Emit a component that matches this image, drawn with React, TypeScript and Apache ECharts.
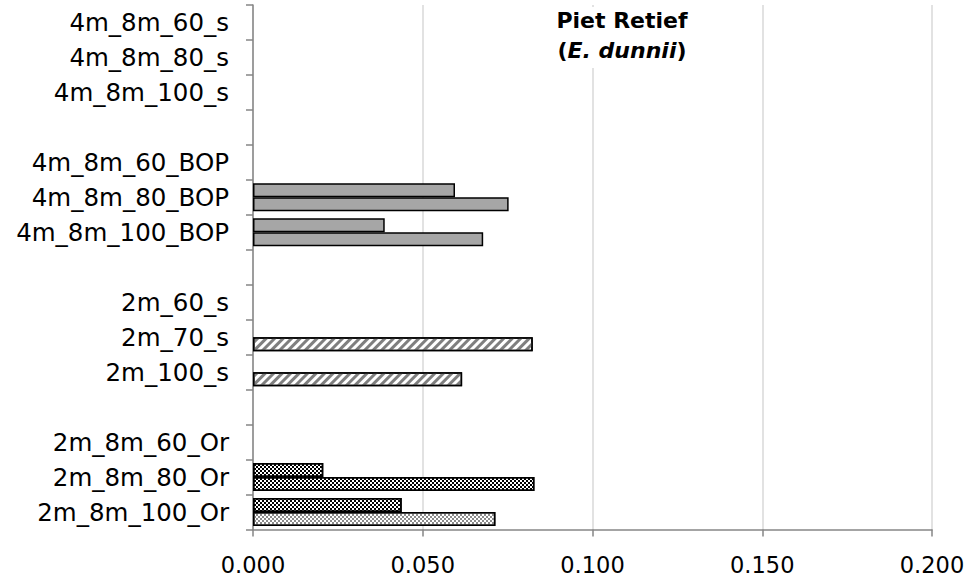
import React, { useEffect, useRef } from 'react';
import * as echarts from 'echarts';

// Categories listed top to bottom (blank strings are the gaps between groups)
const categories: string[] = [
  '4m_8m_60_s', '4m_8m_80_s', '4m_8m_100_s', ' ',
  '4m_8m_60_BOP', '4m_8m_80_BOP', '4m_8m_100_BOP', '  ',
  '2m_60_s', '2m_70_s', '2m_100_s', '   ',
  '2m_8m_60_Or', '2m_8m_80_Or', '2m_8m_100_Or',
];

// Upper bar of each category
const seriesA: (number | null)[] = [
  null, null, null, null,
  null, 0.0595, 0.0388, null,
  null, null, null, null,
  null, 0.0207, 0.0438,
];

// Lower bar of each category
const seriesB: (number | null)[] = [
  null, null, null, null,
  null, 0.0753, 0.0678, null,
  null, 0.0824, 0.0616, null,
  null, 0.0829, 0.0714,
];

const xMin = 0;
const xMax = 0.2;
const xStep = 0.05;

const titleLine1 = 'Piet Retief';
const titleSpecies = 'E. dunnii';

const FONT = 'DejaVu Sans';

const border = { borderColor: '#000000', borderWidth: 1.5 };

const solidGrey = { color: '#a6a6a6', ...border };
const stripe = {
  color: '#ffffff',
  ...border,
  decal: {
    symbol: 'rect',
    symbolSize: 1,
    dashArrayX: [1, 0],
    dashArrayY: [2.5, 2.5],
    rotation: -Math.PI / 4,
    color: '#7f7f7f',
  },
};
const checker = (c: string) => ({
  color: '#ffffff',
  ...border,
  decal: {
    symbol: 'rect',
    symbolSize: 1,
    dashArrayX: [[2, 2], [0, 2, 2, 0]],
    dashArrayY: [2, 0],
    rotation: 0,
    color: c,
  },
});

function styleFor(cat: string, seriesIdx: number) {
  if (cat.endsWith('_BOP')) return solidGrey;
  if (cat.endsWith('_s')) return stripe;
  if (cat === '2m_8m_100_Or' && seriesIdx === 1) return checker('#8c8c8c');
  return checker('#000000');
}

function toData(values: (number | null)[], seriesIdx: number) {
  return values.map((v, i) =>
    v == null ? null : { value: v, itemStyle: styleFor(categories[i], seriesIdx) }
  );
}

export default function App() {
  const ref = useRef<HTMLDivElement>(null);
  useEffect(() => {
    if (!ref.current) return;
    const chart = echarts.init(ref.current, undefined, { renderer: 'svg' });
    chart.setOption({
      animation: false,
      backgroundColor: '#ffffff',
      title: {
        text: `{b|${titleLine1}}\n{b|(}{bi|${titleSpecies}}{b|)}`,
        left: 618,
        top: 3,
        textAlign: 'center',
        backgroundColor: '#ffffff',
        padding: [2, 4, 7, 4],
        z: 10,
        textStyle: {
          rich: {
            b: { fontFamily: FONT, fontWeight: 'bold', fontSize: 22, color: '#000', lineHeight: 30 },
            bi: { fontFamily: FONT, fontWeight: 'bold', fontStyle: 'italic', fontSize: 22, color: '#000', lineHeight: 30 },
          },
        },
      },
      grid: { left: 253, right: 38, top: 5, bottom: 47.5, containLabel: false },
      xAxis: {
        type: 'value',
        min: xMin,
        max: xMax,
        interval: xStep,
        axisLine: { show: true, lineStyle: { color: '#868686', width: 1.5 } },
        axisTick: { show: true, length: 7, lineStyle: { color: '#868686', width: 1.5 } },
        splitLine: { show: true, lineStyle: { color: '#d9d9d9', width: 1.5 } },
        axisLabel: {
          formatter: (v: number) => v.toFixed(3),
          fontFamily: FONT,
          fontSize: 22.5,
          color: '#000',
          margin: 24,
        },
      },
      yAxis: {
        type: 'category',
        inverse: true,
        data: categories,
        axisLine: { show: true, lineStyle: { color: '#868686', width: 1.5 } },
        axisTick: { show: true, length: 7, interval: 0, lineStyle: { color: '#868686', width: 1.5 } },
        axisLabel: {
          interval: 0,
          formatter: (v: string) => v.trim(),
          fontFamily: FONT,
          fontSize: 24.5,
          color: '#000',
          margin: 24,
          padding: [0, 0, 6, 0],
        },
        splitLine: { show: false },
      },
      series: [
        {
          type: 'bar',
          data: toData(seriesA, 0),
          barGap: '0%',
          barCategoryGap: '20%',
        },
        {
          type: 'bar',
          data: toData(seriesB, 1),
          barGap: '0%',
          barCategoryGap: '20%',
        },
      ],
    });
    return () => chart.dispose();
  }, []);
  return (
    <div
      ref={ref}
      style={{ position: 'fixed', left: 0, top: 0, width: 970, height: 577, background: '#fff' }}
    />
  );
}
